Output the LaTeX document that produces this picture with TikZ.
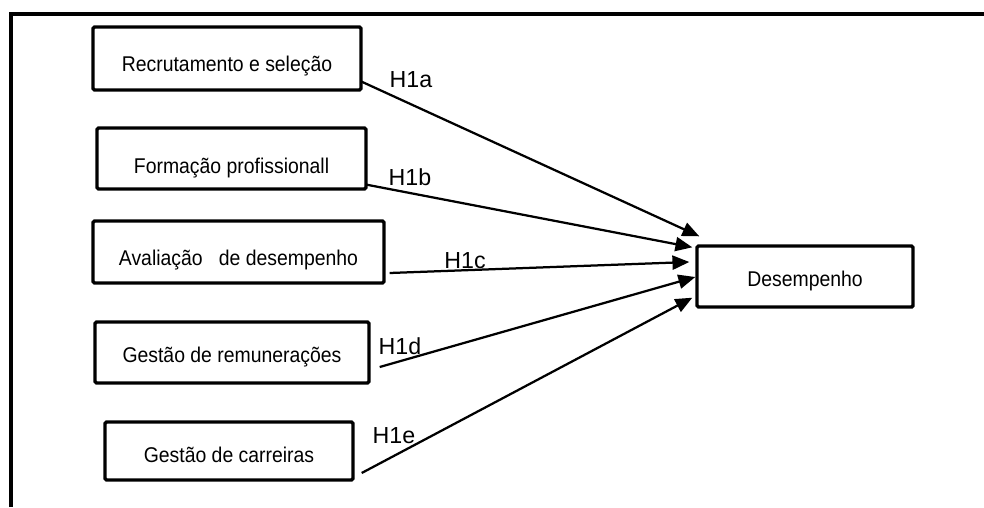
\documentclass[tikz,border=0pt]{standalone}
\usepackage{fontspec}
\setmainfont{Liberation Sans}
\usetikzlibrary{arrows.meta,positioning,calc}
\definecolor{inkline}{RGB}{0,0,0}
\newcommand{\tall}[1]{\scalebox{1}[1.1]{#1}}

\begin{document}
\begin{tikzpicture}[x=0.025cm,y=-0.025cm,>={Triangle[length=12pt,width=10pt]},
  varbox/.style={draw=inkline,line width=2.4pt,rounded corners=1pt,inner sep=0pt,
    font=\fontsize{13.8}{16}\selectfont,text height=17.6pt,text depth=1pt},
  hyp/.style={->,line width=1.6pt,inkline},
  hyplab/.style={inner sep=0pt,font=\fontsize{16.5}{19}\selectfont}]
\useasboundingbox (0,0) rectangle (984,507);
% ================= outer frame (top and left only) =================
\draw[inkline,line width=2.9pt] (11,507) -- (11,14) -- (984,14);
% ================= practices (left column) =================
\node[varbox,text height=19pt,minimum width=268*0.025cm,minimum height=63*0.025cm] (rec) at (227,58.5)
  {\tall{Recrutamento e seleção}};
\node[varbox,text height=22.5pt,minimum width=269*0.025cm,minimum height=61*0.025cm] (form) at (231.5,158.5)
  {\tall{Formação profissionall}};
\node[varbox,text height=20.4pt,minimum width=291*0.025cm,minimum height=62*0.025cm] (aval) at (238.5,252)
  {\tall{Avaliação\ \ \ de desempenho}};
\node[varbox,text height=15.5pt,minimum width=274*0.025cm,minimum height=61*0.025cm] (rem) at (232,352.5)
  {\tall{Gestão de remunerações}};
\node[varbox,minimum width=248*0.025cm,minimum height=58*0.025cm] (carr) at (229,451)
  {\tall{Gestão de carreiras}};
% ================= outcome =================
\node[varbox,text height=15.5pt,minimum width=216*0.025cm,minimum height=61*0.025cm] (des) at (805,276.5)
  {\tall{Desempenho}};
% ================= hypotheses =================
\draw[hyp] ($(rec.south east)+(-1,-10)$) -- ($(des.north west)+(4,-8)$);
\draw[hyp] ($(form.south east)+(-1,-6)$) -- ($(des.north west)+(-3,3)$);
\draw[hyp] ($(aval.east)+(4,21)$) -- ($(des.west)+(-6,-14.5)$);
\draw[hyp] ($(rem.east)+(9,14.5)$) -- ($(des.west)+(0,0.5)$);
\draw[hyp] ($(carr.east)+(7,22)$) -- ($(des.south west)+(-3,-11)$);
\node[hyplab] (labA) at (411,80) {H1a};
\node[hyplab] (labB) at (410,177) {H1b};
\node[hyplab] (labC) at (465,261) {H1c};
\node[hyplab] (labD) at (400,346) {H1d};
\node[hyplab] (labE) at (394,436) {H1e};
\end{tikzpicture}
\end{document}
